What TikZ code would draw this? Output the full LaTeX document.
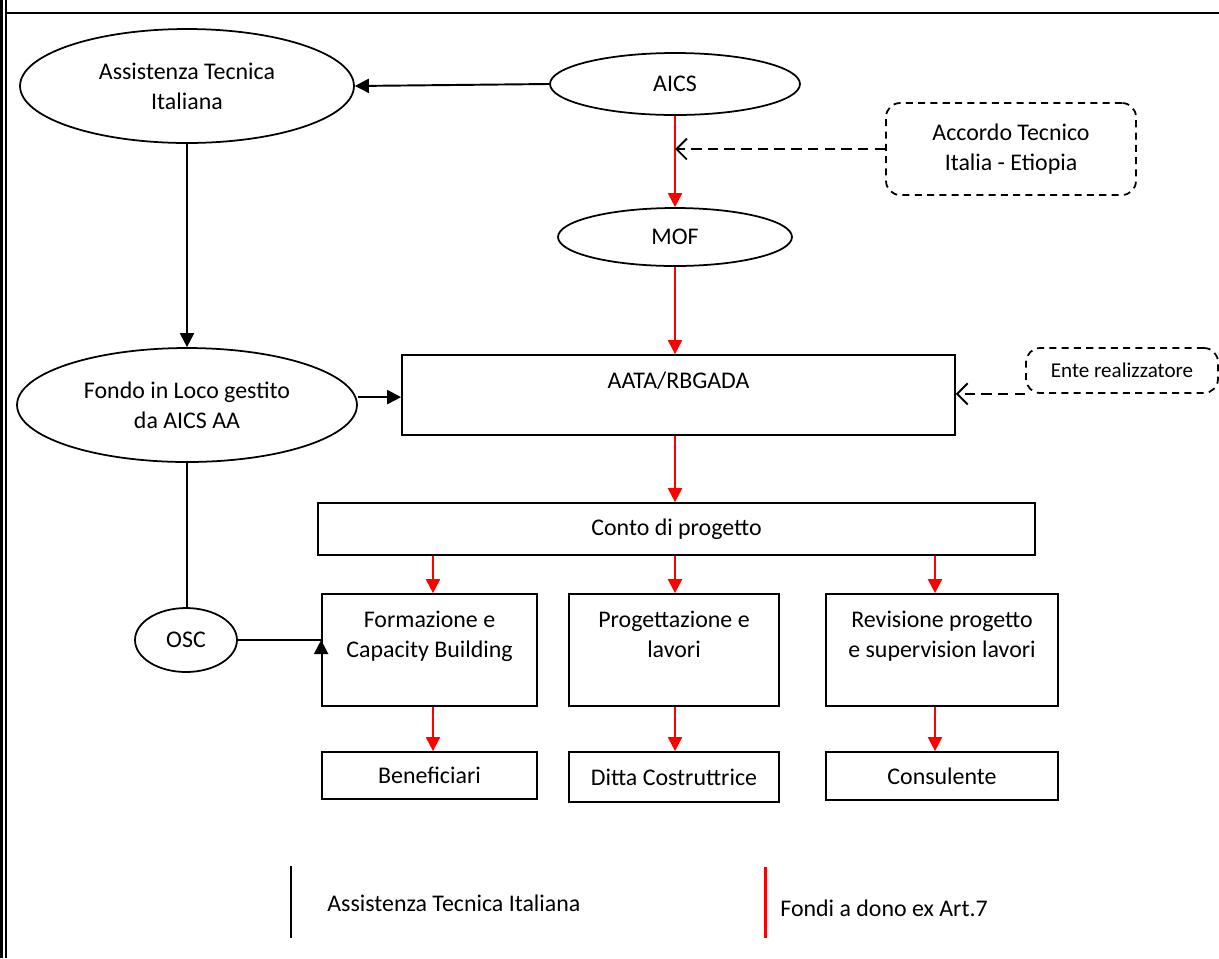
\documentclass[tikz,border=0pt]{standalone}
\usepackage{fontspec}
\setmainfont{Carlito}
\usetikzlibrary{arrows.meta,shapes.geometric}
\tikzset{
  oval/.style={draw, ellipse, line width=1pt, inner sep=0pt, align=center},
  boxnode/.style={draw, rectangle, line width=1pt, inner sep=0pt, align=center},
  dashbox/.style={draw, rectangle, rounded corners=8pt, line width=1pt, dash pattern=on 4pt off 3pt, inner sep=0pt, align=center},
  toptext/.style={label={[anchor=north, yshift=-6.5pt, align=center]north:#1}},
  blkarrow/.style={line width=1.1pt, -{Triangle[length=8pt,width=8pt]}},
  redarrow/.style={red, line width=1.2pt, -{Triangle[length=8pt,width=8pt]}},
  dasharrow/.style={line width=1.1pt, dash pattern=on 6pt off 3.5pt, -{Straight Barb[length=6pt,width=12pt]}},
}
\begin{document}
\begin{tikzpicture}[x=0.02cm, y=-0.02cm, font=\fontsize{13.6}{17}\selectfont]
\useasboundingbox (0,0) rectangle (1219,958);
%frame
\draw[line width=1.7pt] (1.5,0) -- (1.5,958);
\draw[line width=1.1pt] (6,0) -- (6,958);
\draw[line width=1.1pt] (6,13) -- (1219,13);

%top part
\node[oval, minimum width=6.68cm, minimum height=2.28cm] (ati) at (187,86) {Assistenza Tecnica\\Italiana};
\node[oval, minimum width=5cm, minimum height=1.24cm] (aics) at (675,84) {AICS};
\node[dashbox, minimum width=5cm, minimum height=1.84cm] (acc) at (1011,149) {Accordo Tecnico\\Italia - Etiopia};
\node[oval, minimum width=4.68cm, minimum height=1.16cm] (mof) at (675,237) {MOF};

%middle
\node[boxnode, minimum width=11.06cm, minimum height=1.6cm, toptext=AATA/RBGADA] (aata) at (678.5,395) {};
\node[dashbox, minimum width=3.84cm, minimum height=0.9cm, font=\fontsize{12}{14}\selectfont] (ente) at (1122,370.5) {Ente realizzatore};
\node[oval, minimum width=6.8cm, minimum height=2.28cm] (fondo) at (187,405) {Fondo in Loco gestito\\da AICS AA};
\node[boxnode, minimum width=14.34cm, minimum height=1.04cm] (conto) at (676.5,529) {Conto di progetto};
\node[oval, minimum width=2.04cm, minimum height=1.28cm] (osc) at (186,640) {OSC};

%boxes
\node[boxnode, minimum width=4.3cm, minimum height=2.24cm, toptext={Formazione e\\Capacity Building}] (form) at (429.5,650) {};
\node[boxnode, minimum width=4.2cm, minimum height=2.24cm, toptext={Progettazione e\\lavori}] (prog) at (674,650) {};
\node[boxnode, minimum width=4.64cm, minimum height=2.24cm, toptext={Revisione progetto\\e supervision lavori}] (rev) at (942,650) {};
\node[boxnode, minimum width=4.3cm, minimum height=0.94cm] (ben) at (429.5,775.5) {Beneficiari};
\node[boxnode, minimum width=4.2cm, minimum height=1cm] (ditta) at (674,777) {Ditta Costruttrice};
\node[boxnode, minimum width=4.64cm, minimum height=0.96cm] (cons) at (942,776) {Consulente};

%connectors
\draw[blkarrow] (aics.west) -- (ati.east);
\draw[redarrow] (aics.south) -- (mof.north);
\draw[dasharrow] (acc.west) -- (acc.west -| aics.south);
\draw[redarrow] (mof.south) -- (mof.south |- aata.north);
\draw[blkarrow] (ati.south) -- (fondo.north);
\draw[blkarrow] ([yshift=4.5pt]fondo.east) -- ([yshift=4.5pt]fondo.east -| aata.west);
\draw[dasharrow] (ente.south west) -- (ente.south west -| aata.east);
\draw[redarrow] (aata.south -| mof) -- (conto.north -| mof);
\draw[line width=1.1pt] (fondo.south) -- (fondo.south |- osc.north);
\draw[line width=1.1pt] (osc.east) -- (osc.east -| form.west);
\draw[blkarrow] ([yshift=-7pt]osc.east -| form.west) -- (osc.east -| form.west);
\foreach \b/\c/\s in {form/ben/0.07, prog/ditta/0.02, rev/cons/-0.14}{
  \draw[redarrow] ([xshift=\s cm]conto.south -| \b) -- ([xshift=\s cm]\b.north);
  \draw[redarrow] ([xshift=\s cm]\b.south) -- ([xshift=\s cm]\c.north);
}

%legend
\coordinate (legblk) at (291,866);
\coordinate (legred) at (765,867);
\draw[line width=1.7pt] (legblk) -- ++(0,72);
\draw[red, line width=1.7pt] (legred) -- ++(0,71);
\node[anchor=west, inner sep=0pt] (legblktext) at (327,903) {Assistenza Tecnica Italiana};
\node[anchor=west, inner sep=0pt] (legredtext) at (780,908) {Fondi a dono ex Art.7};
\end{tikzpicture}
\end{document}
